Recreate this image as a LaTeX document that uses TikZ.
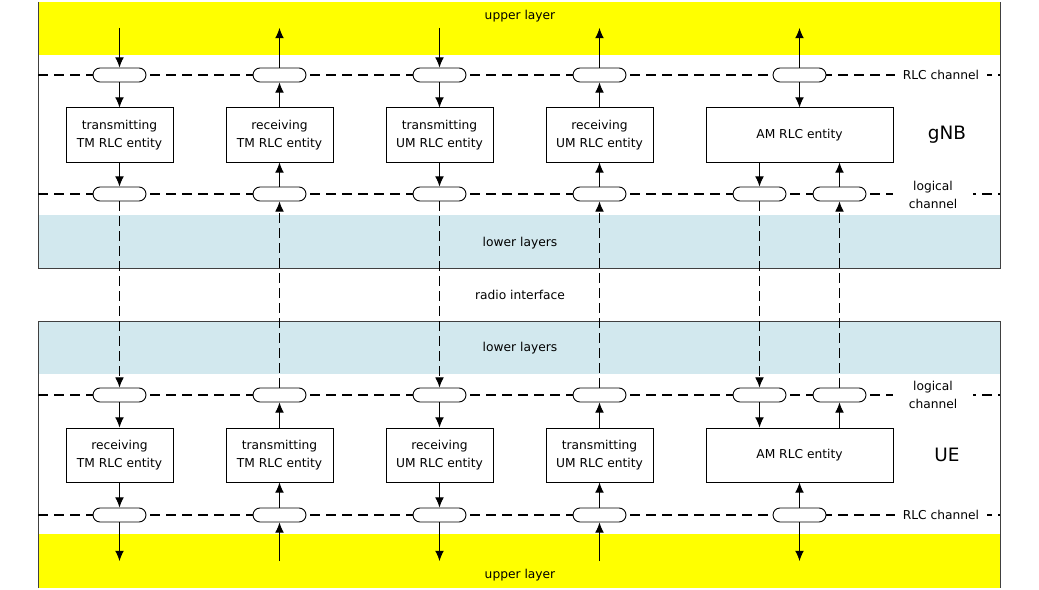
\documentclass[tikz,border=0pt]{standalone}
\usepackage{fontspec}
\setmainfont{DejaVu Sans}
\usetikzlibrary{arrows.meta}
\tikzset{>={Latex[length=3.6mm,width=3.1mm]}}
\definecolor{upperyellow}{RGB}{255,255,0}
\definecolor{lowerblue}{RGB}{210,232,238}
\tikzset{
  entity/.style={draw, fill=white, line width=1pt, minimum width=107bp, minimum height=54bp,
    inner sep=1pt, align=center, font=\fontsize{12.3}{18}\selectfont},
  chan/.style={draw, fill=white, line width=0.9pt, rounded corners=7bp, minimum width=53bp,
    minimum height=14bp, inner sep=0pt},
  chanline/.style={line width=1.1pt, dash pattern=on 10bp off 6bp},
  airline/.style={->, line width=1.1pt, dash pattern=on 10bp off 5bp},
  flow/.style={->, line width=1pt},
  lbl/.style={font=\fontsize{12.3}{18}\selectfont, align=center, inner sep=1pt},
}

\begin{document}
\begin{tikzpicture}[x=1bp,y=-1bp]
\useasboundingbox (0,0) rectangle (1039,590);
    %layers
    \fill[upperyellow] (38,2) rectangle (1000,55);
    \fill[lowerblue] (38,215) rectangle (1000,268);
    \fill[lowerblue] (38,321) rectangle (1000,374);
    \fill[upperyellow] (38,534) rectangle (1000,588);
    \draw[black!75, line width=1pt] (38,2) -- (38,268) -- (1000,268) -- (1000,2);
    \draw[black!75, line width=1pt] (38,588) -- (38,321) -- (1000,321) -- (1000,588);
    %channel lines
    \draw[chanline] (38,75) -- (1000,75);
    \draw[chanline] (38,194) -- (1000,194);
    \draw[chanline] (38,395) -- (1000,395);
    \draw[chanline] (38,515) -- (1000,515);
    %layer labels
    \node[lbl] (upG) at (520,16) {upper layer};
    \node[lbl] (lowG) at (520,243) {lower layers};
    \node[lbl] (air) at (520,295) {radio interface};
    \node[lbl] (lowU) at (520,348) {lower layers};
    \node[lbl] (upU) at (520,575) {upper layer};
    \node[lbl, fill=white, inner xsep=8bp] (rlcG) at (941,75) {RLC channel};
    \node[lbl, fill=white, minimum width=80bp] (logG) at (933,195) {logical\\channel};
    \node[lbl, fill=white, minimum width=80bp] (logU) at (933,395) {logical\\channel};
    \node[lbl, fill=white, inner xsep=8bp] (rlcU) at (941,515) {RLC channel};
    \node[font=\fontsize{18.5}{20}\selectfont] (gnb) at (947,135) {gNB};
    \node[font=\fontsize{18.5}{20}\selectfont] (ue) at (947,455) {UE};
    %gNB entities
    \node[entity] (gTx1) at (119.5,135) {transmitting\\TM RLC entity};
    \node[entity] (gRx2) at (279.5,135) {receiving\\TM RLC entity};
    \node[entity] (gTx3) at (439.5,135) {transmitting\\UM RLC entity};
    \node[entity] (gRx4) at (599.5,135) {receiving\\UM RLC entity};
    \node[entity, minimum width=187bp] (gAM) at (799.5,135) {AM RLC entity};
    %UE entities
    \node[entity] (uRx1) at (119.5,455) {receiving\\TM RLC entity};
    \node[entity] (uTx2) at (279.5,455) {transmitting\\TM RLC entity};
    \node[entity] (uRx3) at (439.5,455) {receiving\\UM RLC entity};
    \node[entity] (uTx4) at (599.5,455) {transmitting\\UM RLC entity};
    \node[entity, minimum width=187bp] (uAM) at (799.5,455) {AM RLC entity};
    %gNB channels
    \node[chan] (gR1) at (119.5,75) {};
    \node[chan] (gR2) at (279.5,75) {};
    \node[chan] (gR3) at (439.5,75) {};
    \node[chan] (gR4) at (599.5,75) {};
    \node[chan] (gR5) at (799.5,75) {};
    \node[chan] (gL1) at (119.5,194) {};
    \node[chan] (gL2) at (279.5,194) {};
    \node[chan] (gL3) at (439.5,194) {};
    \node[chan] (gL4) at (599.5,194) {};
    \node[chan] (gL5) at (759.5,194) {};
    \node[chan] (gL6) at (839.5,194) {};
    %UE channels
    \node[chan] (uL1) at (119.5,395) {};
    \node[chan] (uL2) at (279.5,395) {};
    \node[chan] (uL3) at (439.5,395) {};
    \node[chan] (uL4) at (599.5,395) {};
    \node[chan] (uL5) at (759.5,395) {};
    \node[chan] (uL6) at (839.5,395) {};
    \node[chan] (uR1) at (119.5,515) {};
    \node[chan] (uR2) at (279.5,515) {};
    \node[chan] (uR3) at (439.5,515) {};
    \node[chan] (uR4) at (599.5,515) {};
    \node[chan] (uR5) at (799.5,515) {};
    %ends in upper layer
    \coordinate (gT1) at (119.5,28);
    \coordinate (gT2) at (279.5,28);
    \coordinate (gT3) at (439.5,28);
    \coordinate (gT4) at (599.5,28);
    \coordinate (gT5) at (799.5,28);
    \coordinate (uB1) at (119.5,561);
    \coordinate (uB2) at (279.5,561);
    \coordinate (uB3) at (439.5,561);
    \coordinate (uB4) at (599.5,561);
    \coordinate (uB5) at (799.5,561);
    %TM downlink
    \draw[flow] (gT1) -- (gR1);
    \draw[flow] (gR1) -- (gTx1);
    \draw[flow] (gTx1) -- (gL1);
    \draw[airline] (gL1) -- (uL1);
    \draw[flow] (uL1) -- (uRx1);
    \draw[flow] (uRx1) -- (uR1);
    \draw[flow] (uR1) -- (uB1);
    %TM uplink
    \draw[flow] (uB2) -- (uR2);
    \draw[flow] (uR2) -- (uTx2);
    \draw[flow] (uTx2) -- (uL2);
    \draw[airline] (uL2) -- (gL2);
    \draw[flow] (gL2) -- (gRx2);
    \draw[flow] (gRx2) -- (gR2);
    \draw[flow] (gR2) -- (gT2);
    %UM downlink
    \draw[flow] (gT3) -- (gR3);
    \draw[flow] (gR3) -- (gTx3);
    \draw[flow] (gTx3) -- (gL3);
    \draw[airline] (gL3) -- (uL3);
    \draw[flow] (uL3) -- (uRx3);
    \draw[flow] (uRx3) -- (uR3);
    \draw[flow] (uR3) -- (uB3);
    %UM uplink
    \draw[flow] (uB4) -- (uR4);
    \draw[flow] (uR4) -- (uTx4);
    \draw[flow] (uTx4) -- (uL4);
    \draw[airline] (uL4) -- (gL4);
    \draw[flow] (gL4) -- (gRx4);
    \draw[flow] (gRx4) -- (gR4);
    \draw[flow] (gR4) -- (gT4);
    %AM
    \draw[flow] (gR5) -- (gT5);
    \draw[flow] (gR5) -- (gAM);
    \draw[flow] (gL5 |- gAM.south) -- (gL5);
    \draw[flow] (gL6) -- (gL6 |- gAM.south);
    \draw[airline] (gL5) -- (uL5);
    \draw[airline] (uL6) -- (gL6);
    \draw[flow] (uL5) -- (uL5 |- uAM.north);
    \draw[flow] (uL6 |- uAM.north) -- (uL6);
    \draw[flow] (uR5) -- (uAM);
    \draw[flow] (uR5) -- (uB5);
\end{tikzpicture}
\end{document}
